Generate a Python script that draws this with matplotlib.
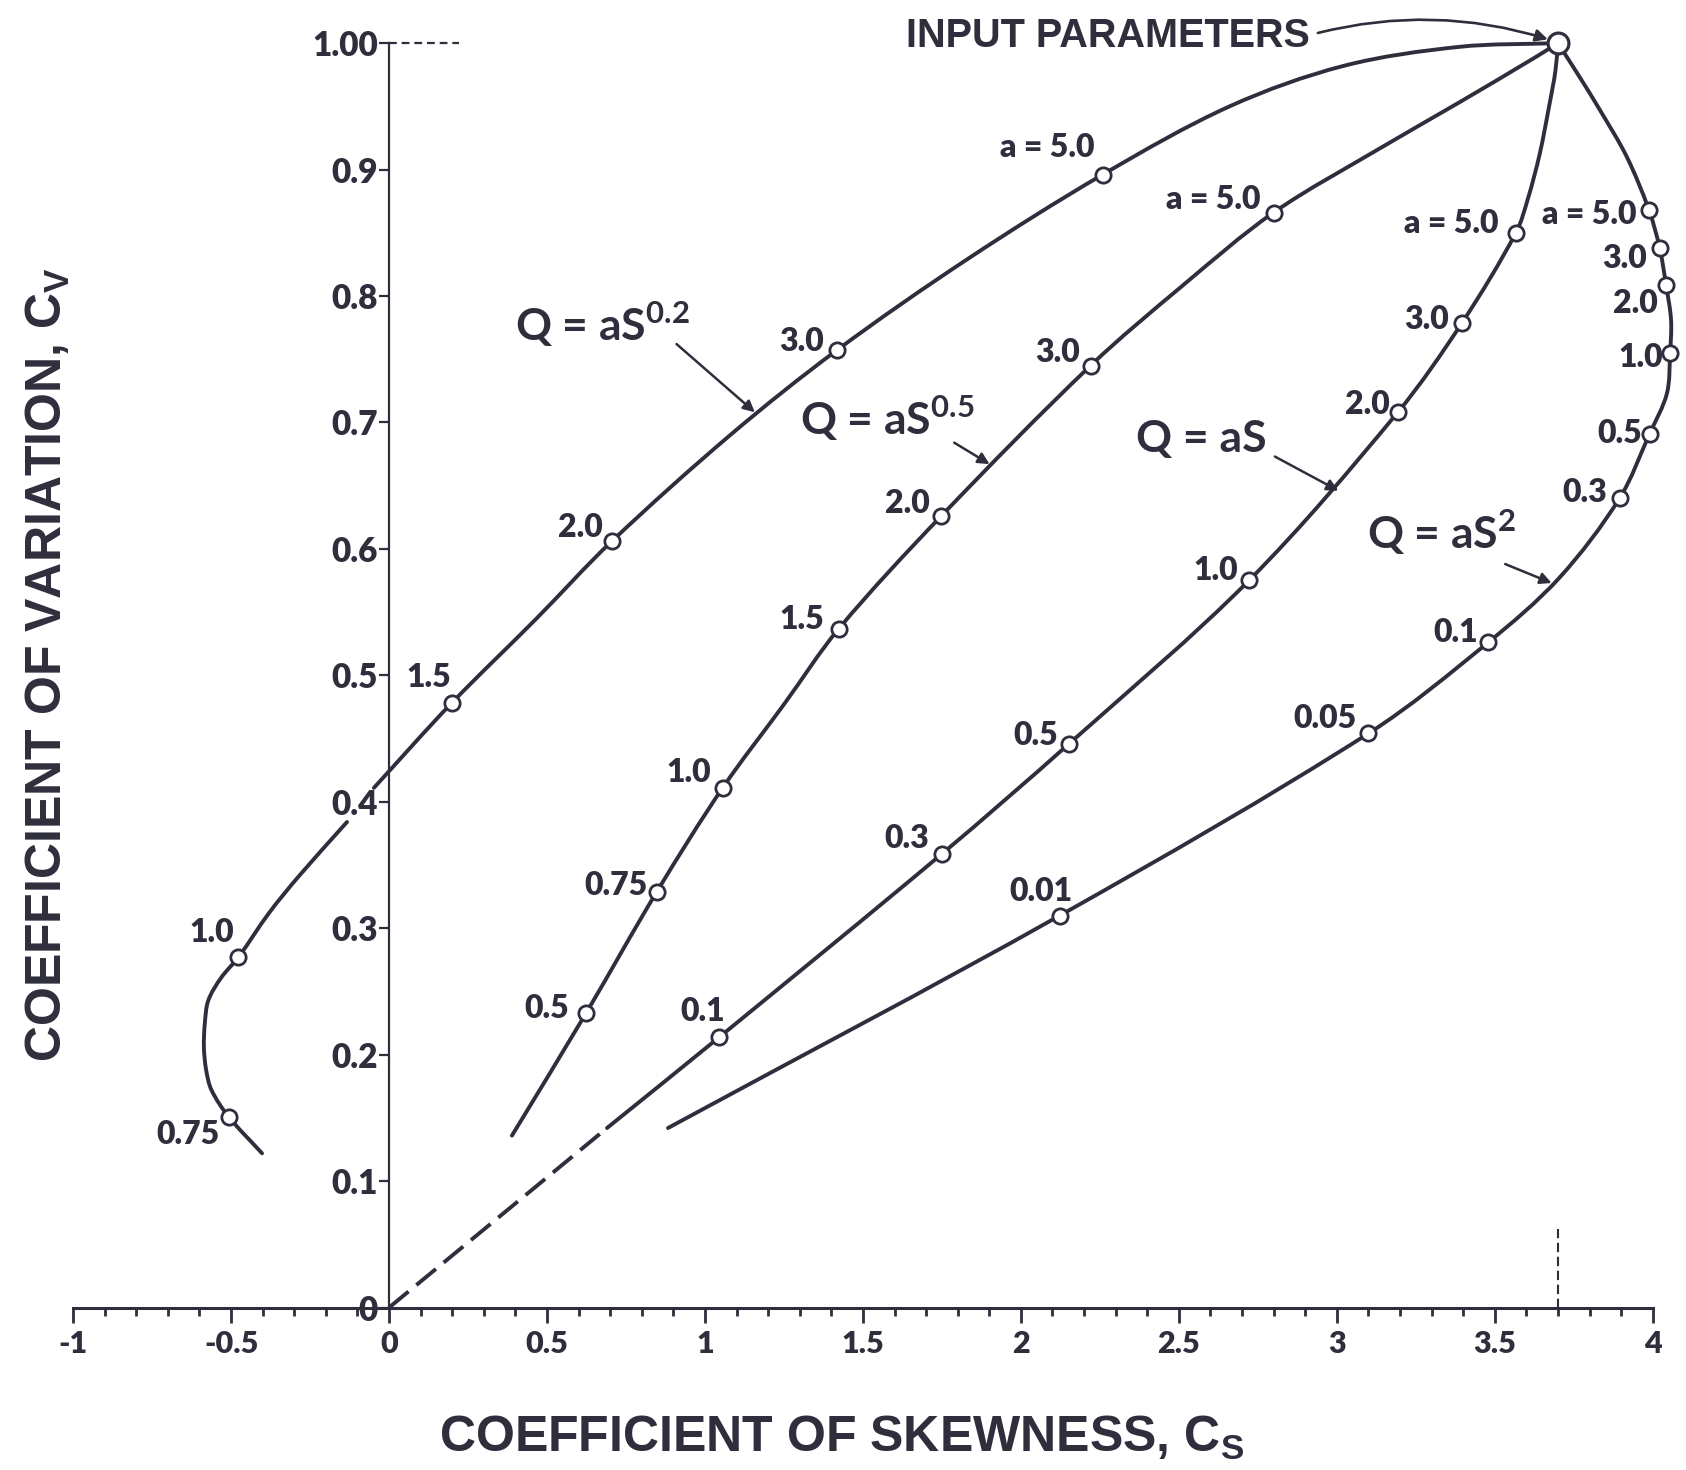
import numpy as np
import matplotlib
matplotlib.use("Agg")
import matplotlib.pyplot as plt
from matplotlib.ticker import FixedLocator
from matplotlib.path import Path
from matplotlib.patches import PathPatch

# ---------------- data ----------------
input_cs = 3.70
input_cv = 1.00

# Q = aS^0.2
a_02 = ['0.75', '1.0', '1.5', '2.0', '3.0', 'a = 5.0']
cs_02 = [-0.508, -0.477, 0.198, 0.705, 1.417, 2.259]
cv_02 = [0.151, 0.277, 0.478, 0.606, 0.757, 0.896]
trace_cs_02 = [-0.402, -0.508, -0.562, -0.579, -0.586, -0.583, -0.572, -0.531, -0.477,
               -0.380, -0.286, -0.133, np.nan, -0.048, 0.198, 0.467, 0.705, 1.080,
               1.417, 1.830, 2.259, 2.661, 3.022, 3.387, 3.700]
trace_cv_02 = [0.122, 0.151, 0.172, 0.188, 0.206, 0.225, 0.243, 0.261, 0.277,
               0.312, 0.341, 0.384, np.nan, 0.411, 0.478, 0.545, 0.606, 0.690,
               0.757, 0.829, 0.896, 0.950, 0.982, 0.997, 1.000]

# Q = aS^0.5
a_05 = ['0.5', '0.75', '1.0', '1.5', '2.0', '3.0', 'a = 5.0']
cs_05 = [0.624, 0.848, 1.056, 1.424, 1.748, 2.221, 2.800]
cv_05 = [0.233, 0.329, 0.411, 0.537, 0.626, 0.745, 0.866]
trace_cs_05 = [0.389, 0.624, 0.848, 1.056, 1.250, 1.424, 1.748, 2.221, 2.511, 2.800,
               3.145, 3.387, 3.630, 3.700]
trace_cv_05 = [0.136, 0.233, 0.329, 0.411, 0.477, 0.537, 0.626, 0.745, 0.808, 0.866,
               0.918, 0.953, 0.989, 1.000]

# Q = aS
a_1 = ['0.1', '0.3', '0.5', '1.0', '2.0', '3.0', 'a = 5.0']
cs_1 = [1.046, 1.751, 2.153, 2.722, 3.193, 3.397, 3.567]
cv_1 = [0.214, 0.359, 0.446, 0.575, 0.708, 0.779, 0.850]
dash_cs_1 = [0.0, 0.690]
dash_cv_1 = [0.0, 0.142]
trace_cs_1 = [0.690, 1.046, 1.751, 2.153, 2.722, 3.193, 3.397, 3.567, 3.605, 3.642,
              3.672, 3.692, 3.700]
trace_cv_1 = [0.142, 0.214, 0.359, 0.446, 0.575, 0.708, 0.779, 0.850, 0.877, 0.912,
              0.950, 0.978, 1.000]

# Q = aS^2
a_2 = ['0.01', '0.05', '0.1', '0.3', '0.5', '1.0', '2.0', '3.0', 'a = 5.0']
cs_2 = [2.123, 3.100, 3.479, 3.895, 3.990, 4.055, 4.042, 4.022, 3.988]
cv_2 = [0.310, 0.454, 0.526, 0.640, 0.691, 0.755, 0.809, 0.838, 0.868]
trace_cs_2 = [0.883, 2.123, 3.100, 3.479, 3.704, 3.895, 3.990, 4.045, 4.055, 4.058,
              4.042, 4.022, 3.988, 3.918, 3.833, 3.769, 3.700]
trace_cv_2 = [0.142, 0.310, 0.454, 0.526, 0.577, 0.640, 0.691, 0.723, 0.755, 0.781,
              0.809, 0.838, 0.868, 0.910, 0.947, 0.973, 1.000]

x_ticks = [-1, -0.5, 0, 0.5, 1, 1.5, 2, 2.5, 3, 3.5, 4]
x_tick_labels = ['-1', '-0.5', '0', '0.5', '1', '1.5', '2', '2.5', '3', '3.5', '4']
y_ticks = [0, 0.1, 0.2, 0.3, 0.4, 0.5, 0.6, 0.7, 0.8, 0.9, 1.0]
y_tick_labels = ['0', '0.1', '0.2', '0.3', '0.4', '0.5', '0.6', '0.7', '0.8', '0.9', '1.00']

# ---------------- layout / style ----------------
INK = '#2e2e3d'
PX = 0.774  # reference pixel -> points
LBL_FONT = ['Lato', 'DejaVu Sans']
TITLE_FONT = ['Liberation Sans Narrow', 'Liberation Sans', 'DejaVu Sans']
Y_ASPECT = 4.0  # display px per y-unit / px per x-unit (for smooth drawing)

off_02 = [(-8, -17), (-4, 23), (0, 24), (-8, 13), (-12, 8), (-8, 25)]
off_05 = [(-16, 4), (-9, 6), (-11, 14), (-14, 8), (-11, 12), (-10, 12), (-12, 12)]
off_1 = [(5, 24), (-12, 14), (-10, 8), (-10, 9), (-7, 7), (-12, 3), (-16, 9)]
off_2 = [(12, 22), (-11, 14), (-9, 9), (-12, 5), (-7, 0), (-7, -4), (-8, -18), (-12, -10), (-12, -4)]


def smooth_path(xs, ys):
    """Cubic Bezier path through the traced points (chord-length tangents)."""
    xs = np.asarray(xs, float)
    ys = np.asarray(ys, float)
    verts, codes = [], []
    breaks = np.where(np.isnan(xs))[0]
    starts = np.concatenate([[0], breaks + 1])
    ends = np.concatenate([breaks, [len(xs)]])
    for s, e in zip(starts, ends):
        P = np.column_stack([xs[s:e], ys[s:e] * Y_ASPECT])
        n = len(P)
        d = np.linalg.norm(np.diff(P, axis=0), axis=1)
        T = np.zeros_like(P)
        for i in range(n):
            if i == 0:
                T[i] = (P[1] - P[0]) / d[0]
            elif i == n - 1:
                T[i] = (P[-1] - P[-2]) / d[-1]
            else:
                T[i] = (P[i + 1] - P[i - 1]) / (d[i - 1] + d[i])
        verts.append(P[0]); codes.append(Path.MOVETO)
        for i in range(n - 1):
            c1 = P[i] + T[i] * d[i] / 3
            c2 = P[i + 1] - T[i + 1] * d[i] / 3
            verts += [c1, c2, P[i + 1]]
            codes += [Path.CURVE4] * 3
    V = np.array(verts)
    V[:, 1] /= Y_ASPECT
    return Path(V, codes)


fig = plt.figure(figsize=(16.86, 14.70), dpi=100)
fig.patch.set_facecolor('white')
ax = fig.add_axes([0.0340, 0.0933, 0.9650, 0.9032])
ax.set_xlim(-1.05, 4.10)
ax.set_ylim(-0.02, 1.03)

LW = 2.8
for tc, tv in [(trace_cs_02, trace_cv_02), (trace_cs_05, trace_cv_05),
               (trace_cs_1, trace_cv_1), (trace_cs_2, trace_cv_2)]:
    ax.add_patch(PathPatch(smooth_path(tc, tv), facecolor='none', edgecolor=INK, lw=LW,
                           capstyle='round', joinstyle='round', zorder=3))
ax.plot(dash_cs_1, dash_cv_1, color=INK, lw=LW, linestyle=(0, (6.5, 2.6)), zorder=3)

# reference dashed lines
ax.plot([0, 0.22], [1.0, 1.0], color=INK, lw=1.6, linestyle=(0, (3.5, 2.2)), zorder=3)
ax.plot([input_cs, input_cs], [0, 0.062], color=INK, lw=1.5, linestyle=(0, (4.5, 2.2)), zorder=3)

for cs, cv, labels, offs in [(cs_02, cv_02, a_02, off_02), (cs_05, cv_05, a_05, off_05),
                             (cs_1, cv_1, a_1, off_1), (cs_2, cv_2, a_2, off_2)]:
    ax.plot(cs, cv, linestyle='none', marker='o', ms=11, mfc='white', mec=INK, mew=2.0, zorder=4)
    for x, y, t, (dx, dy) in zip(cs, cv, labels, offs):
        ax.annotate(t, (x, y), xytext=(dx * PX, dy * PX), textcoords='offset points',
                    ha='right', va='center', fontsize=23, fontweight='heavy',
                    family=LBL_FONT, color=INK, zorder=5)

ax.plot([input_cs], [input_cv], linestyle='none', marker='o', ms=15, mfc='white',
        mec=INK, mew=2.3, zorder=6)

# curve names with arrows
curve_names = [r'Q = aS$^{\mathregular{0.2}}$', r'Q = aS$^{\mathregular{0.5}}$', 'Q = aS',
               r'Q = aS$^{\mathregular{2}}$']
name_pos = [(0.399, 0.764), (1.301, 0.690), (2.365, 0.677), (3.097, 0.600)]
arrow_tail = [(0.91, 0.762), (1.789, 0.684), (2.804, 0.673), (3.533, 0.588)]
arrow_tip = [(1.158, 0.708), (1.901, 0.667), (3.005, 0.646), (3.680, 0.573)]
for name, (tx, ty), tail, tip in zip(curve_names, name_pos, arrow_tail, arrow_tip):
    ax.text(tx, ty, name, ha='left', va='baseline', fontsize=32, fontweight='bold',
            family=LBL_FONT, color=INK, zorder=5)
    ax.annotate('', xy=tip, xytext=tail,
                arrowprops=dict(arrowstyle='-|>', color=INK, lw=1.8, mutation_scale=17,
                                shrinkA=0, shrinkB=0), zorder=5)

ax.text(1.635, 0.997, 'INPUT PARAMETERS', ha='left', va='baseline', fontsize=28.5,
        fontweight='bold', family=['Liberation Sans', 'DejaVu Sans'], color=INK, zorder=5)
ax.annotate('', xy=(3.668, 1.003), xytext=(2.94, 1.008),
            arrowprops=dict(arrowstyle='-|>', color=INK, lw=1.9, mutation_scale=18,
                            shrinkA=0, shrinkB=0, connectionstyle='arc3,rad=-0.14'), zorder=5)

# axes
for s in ['top', 'right']:
    ax.spines[s].set_visible(False)
ax.spines['left'].set_position(('data', 0))
ax.spines['bottom'].set_position(('data', 0))
ax.spines['left'].set_bounds(0, 1.0)
ax.spines['bottom'].set_bounds(-1, 4)
ax.spines['left'].set_linewidth(1.6)
ax.spines['bottom'].set_linewidth(2.2)
ax.spines['left'].set_color(INK)
ax.spines['bottom'].set_color(INK)

ax.xaxis.set_major_locator(FixedLocator(x_ticks))
ax.set_xticklabels(x_tick_labels)
ax.xaxis.set_minor_locator(FixedLocator(np.round(np.arange(-1.0, 4.001, 0.1), 2)))
ax.yaxis.set_major_locator(FixedLocator(y_ticks))
ax.set_yticklabels(y_tick_labels)
ax.tick_params(axis='x', which='major', direction='out', length=11, width=2.0, pad=5,
               color=INK, labelcolor=INK, labelsize=22)
ax.tick_params(axis='x', which='minor', direction='out', length=6, width=2.0, color=INK)
ax.tick_params(axis='y', which='major', direction='out', length=7, width=1.6, pad=1,
               color=INK, labelcolor=INK, labelsize=24)
for lab in ax.get_xticklabels() + ax.get_yticklabels():
    lab.set_family(LBL_FONT)
    lab.set_fontweight('heavy')

fig.text(0.499, 0.0122, r'COEFFICIENT OF SKEWNESS, C$_\mathregular{S}$', ha='center',
         va='baseline', fontsize=36, fontweight='bold', family=TITLE_FONT, color=INK)
fig.text(0.037, 0.548, r'COEFFICIENT OF VARIATION, C$_\mathregular{V}$', ha='center',
         va='baseline', rotation=90, rotation_mode='anchor', fontsize=36,
         fontweight='bold', family=TITLE_FONT, color=INK)

fig.savefig('out.png', dpi=100, facecolor='white')
